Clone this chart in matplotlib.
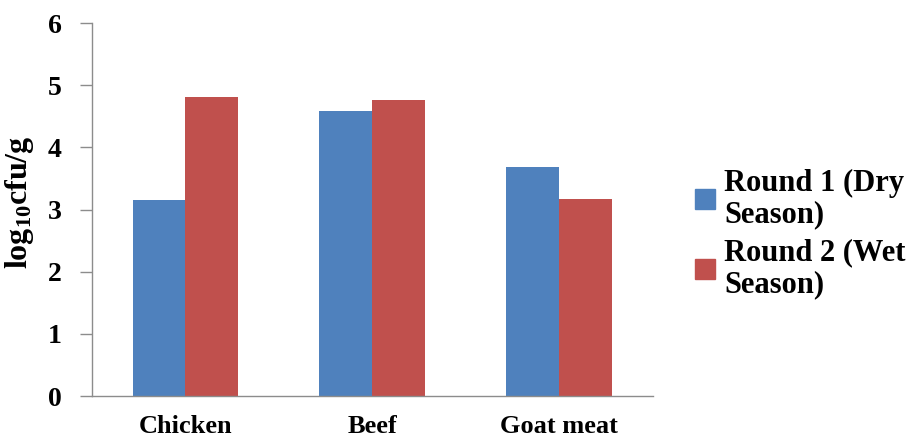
import matplotlib
matplotlib.use("Agg")
import matplotlib.pyplot as plt
from matplotlib.patches import Patch
import numpy as np

# Bacterial counts by meat type and sampling round
categories = ["Chicken", "Beef", "Goat meat"]
round1_dry = [3.15, 4.58, 3.68]
round2_wet = [4.81, 4.76, 3.17]
series_labels = ["Round 1 (Dry\nSeason)", "Round 2 (Wet\nSeason)"]
yticks = [0, 1, 2, 3, 4, 5, 6]

BLUE = '#4F81BD'
RED = '#C0504D'
AXIS_GREY = '#8C8C8C'

plt.rcParams['font.family'] = ['Liberation Serif', 'DejaVu Serif']
plt.rcParams['font.weight'] = 'bold'
plt.rcParams['mathtext.fontset'] = 'custom'
plt.rcParams['mathtext.rm'] = 'Liberation Serif:bold'
plt.rcParams['mathtext.it'] = 'Liberation Serif:bold'
plt.rcParams['mathtext.default'] = 'rm'

fig = plt.figure(figsize=(9.15, 4.37), dpi=100)
ax = fig.add_axes([0.1005, 0.0938, 0.613, 0.8535])

x = np.arange(len(categories))
width = 0.283
ax.bar(x - width / 2, round1_dry, width, color=BLUE, label=series_labels[0])
ax.bar(x + width / 2, round2_wet, width, color=RED, label=series_labels[1])

ax.set_xlim(-0.5, len(categories) - 0.5)
ax.set_ylim(0, 6)
ax.set_yticks(yticks)
ax.set_yticklabels([str(t) for t in yticks], fontsize=20, fontweight='bold')
ax.set_xticks(x)
ax.set_xticklabels(categories, fontsize=19, fontweight='bold')
ax.tick_params(axis='x', length=0, pad=14)
ax.tick_params(axis='y', length=9, width=1, color=AXIS_GREY, pad=13)

for side in ['top', 'right']:
    ax.spines[side].set_visible(False)
for side in ['left', 'bottom']:
    ax.spines[side].set_color(AXIS_GREY)
    ax.spines[side].set_linewidth(1)

ax.set_ylabel(r'$\mathrm{log_{10}cfu/g}$', fontsize=23)
ax.yaxis.set_label_coords(-0.1, 0.52)

handles = [Patch(color=BLUE), Patch(color=RED)]
leg = fig.legend(handles, series_labels, loc='center left',
                 bbox_to_anchor=(0.760, 0.465), frameon=False,
                 prop={'family': 'Liberation Serif', 'weight': 'bold', 'size': 22},
                 handlelength=0.65, handleheight=0.65, handletextpad=0.3,
                 labelspacing=0.3, borderpad=0, borderaxespad=0)
for t in leg.get_texts():
    t.set_linespacing(1.12)

fig.savefig('out.png', dpi=100)
